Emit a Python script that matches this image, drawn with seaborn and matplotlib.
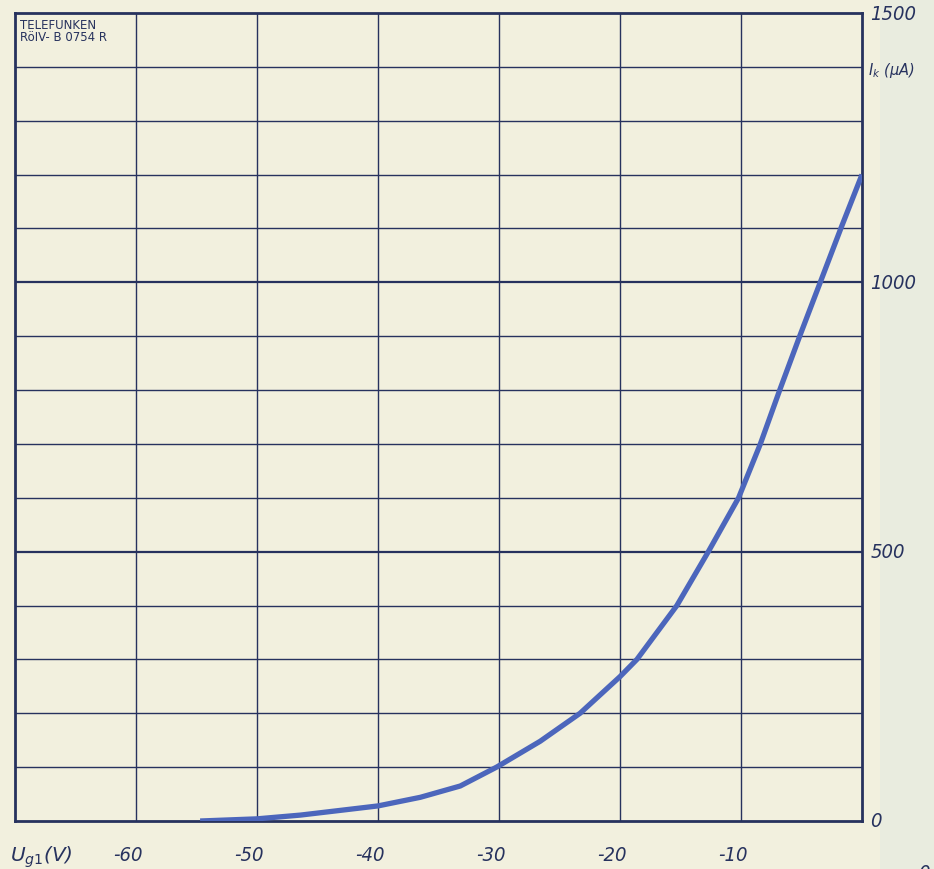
import matplotlib
matplotlib.use("Agg")
import matplotlib.pyplot as plt
import matplotlib.patches as mpatches
import pandas as pd
import seaborn as sns

# Cathode current versus grid-1 voltage (Telefunken RöIV-B 0754 R)
grid_voltage = [-54.7, -50, -46.4, -40, -36.5, -33.2, -30.2, -26.6, -23.3, -20, -18.6,
                -15.3, -12.7, -10.2, -8.4, -6.8, -5.15, -3.45, -1.75, 0]
cathode_current = [0, 4, 11, 28, 44, 65, 100, 148, 200, 268, 300,
                   400, 500, 600, 700, 800, 900, 1000, 1100, 1200]

x_ticks = [-60, -50, -40, -30, -20, -10]
x_tick_labels = ["-60", "-50", "-40", "-30", "-20", "-10"]
y_ticks = [0, 500, 1000, 1500]
y_tick_labels = ["0", "500", "1000", "1500"]

paper = "#f2f0de"
ink = "#27325e"
curve_blue = "#4c66bc"

sns.set_theme(style="white")
plt.rcParams["font.family"] = ["DejaVu Sans"]

fig = plt.figure(figsize=(9.34, 8.70), dpi=100)
fig.patch.set_facecolor(paper)
# lighter strip along the right margin, behind everything else
fig.patches.append(mpatches.Rectangle((0.942, 0), 0.058, 1, transform=fig.transFigure,
                                      facecolor="#e9ecdf", edgecolor="none", zorder=-5))

ax = fig.add_axes([15 / 934, 1 - 822 / 870, (862 - 15) / 934, (822 - 14) / 870])
ax.set_facecolor(paper)

df = pd.DataFrame({"U": grid_voltage, "I": cathode_current})

ax.set_xlim(-70, 0)
ax.set_ylim(0, 1500)

# grid: every 10 V and every 100 µA, heavier lines at 500 µA steps
for v in range(-60, 0, 10):
    ax.axvline(v, color=ink, lw=1.0, zorder=1)
for i in range(100, 1500, 100):
    ax.axhline(i, color=ink, lw=1.6 if i % 500 == 0 else 1.0, zorder=1)

sns.lineplot(data=df, x="U", y="I", ax=ax, color=curve_blue, lw=3.8, zorder=3,
             solid_joinstyle="round", solid_capstyle="butt")

for side in ["left", "right", "top", "bottom"]:
    ax.spines[side].set_visible(True)
    ax.spines[side].set_color(ink)
    ax.spines[side].set_linewidth(2.0)

ax.set_xlabel("")
ax.set_ylabel("")
ax.set_xticks([])
ax.set_yticks([])

label_font = dict(color=ink, style="italic", fontstretch="condensed", fontsize=14.5)

for v, lab in zip(x_ticks, x_tick_labels):
    ax.annotate(lab, xy=(v, 0), xycoords="data", xytext=(5, -24), textcoords="offset points",
                ha="right", va="center", **label_font)
for i, lab in zip(y_ticks, y_tick_labels):
    ax.annotate(lab, xy=(0, i), xycoords="data", xytext=(6, 0), textcoords="offset points",
                ha="left", va="center", **label_font)

ax.annotate(r"$I_k$ (µA)", xy=(0, 1395), xycoords="data", xytext=(4, 0), textcoords="offset points",
            ha="left", va="center", color=ink, style="italic", fontsize=10.5)
fig.text(10 / 934, 1 - 857 / 870, r"$U_{g1}$(V)", ha="left", va="center",
         color=ink, style="italic", fontsize=14.5)
fig.text(924 / 934, -0.004, "0", ha="center", va="center", **label_font)

ax.text(0.006, 0.994, "TELEFUNKEN\nRöIV- B 0754 R", transform=ax.transAxes,
        ha="left", va="top", color=ink, fontsize=8.5, linespacing=0.95,
        fontweight="medium")

fig.savefig("out.png", dpi=100, facecolor=fig.get_facecolor())
